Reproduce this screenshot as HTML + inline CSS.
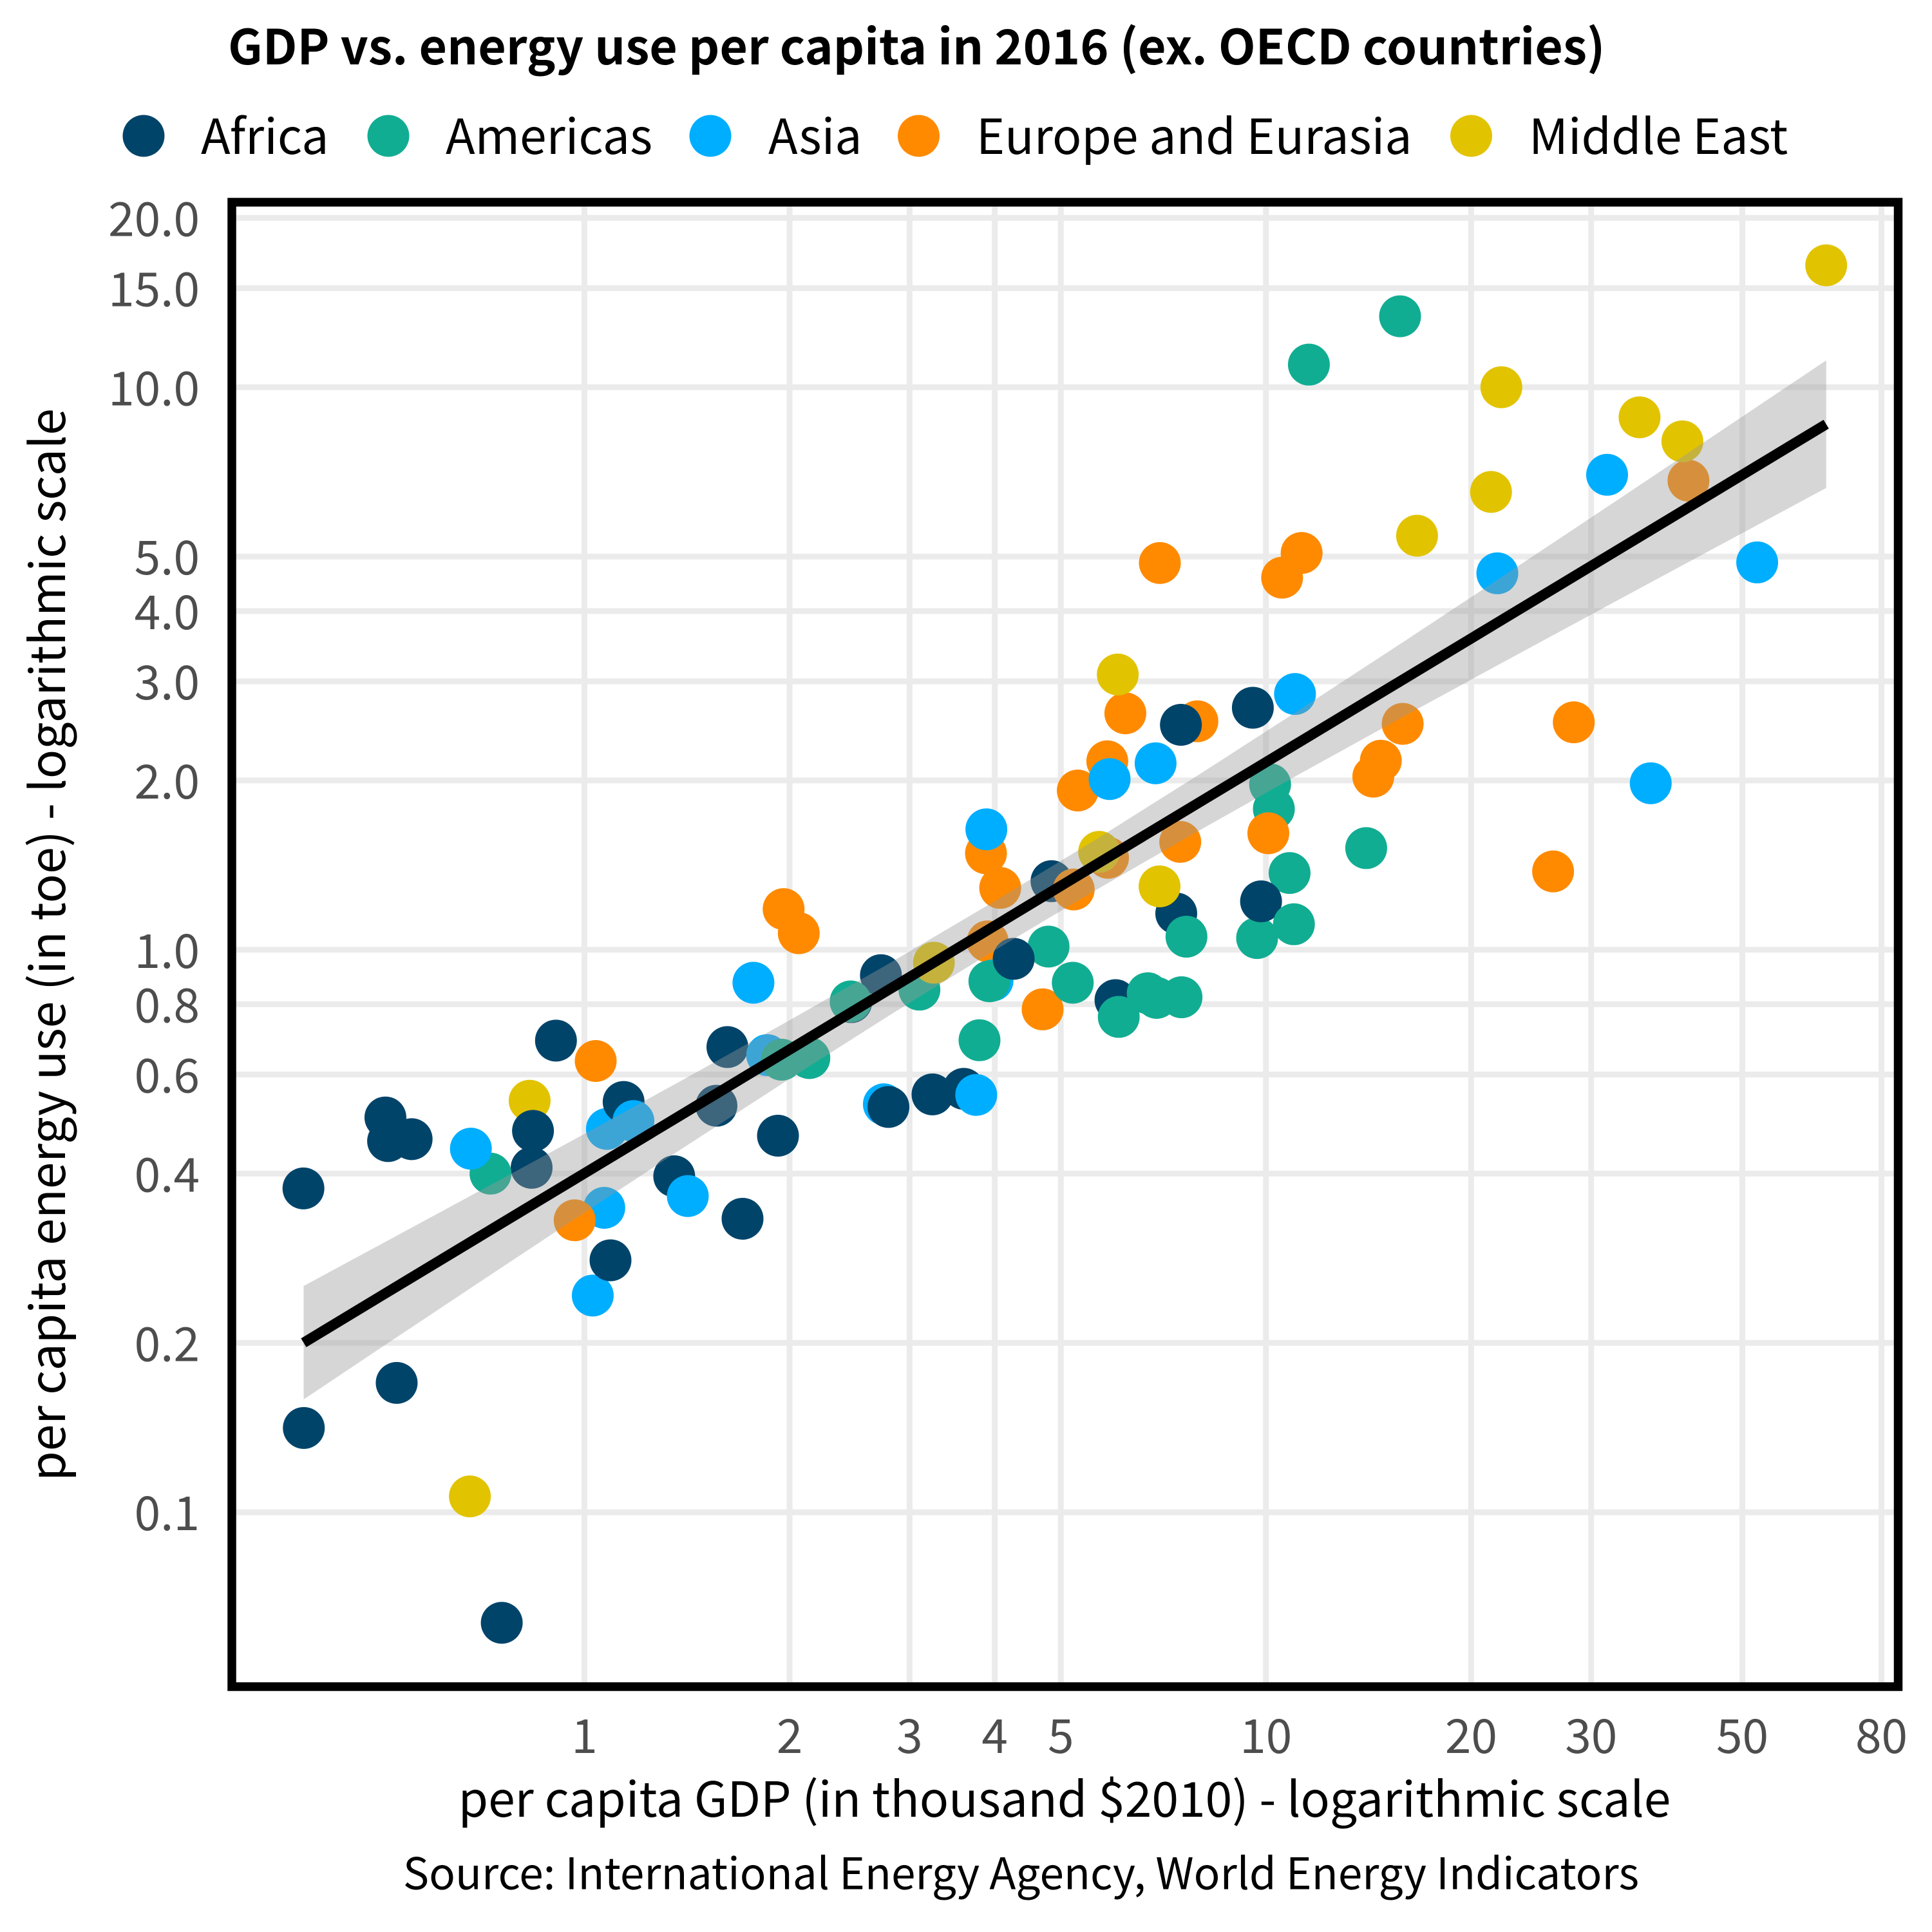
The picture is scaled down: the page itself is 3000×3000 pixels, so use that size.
<!DOCTYPE html>
<html lang="en">
<head>
<meta charset="utf-8">
<title>GDP vs. energy use per capita in 2016</title>
<style>
html,body{margin:0;padding:0;background:#fff;}
svg{display:block;}
text{font-family:"Noto Sans CJK SC","Liberation Sans",sans-serif;}
</style>
</head>
<body>
<svg id="chart" xmlns="http://www.w3.org/2000/svg" width="3000" height="3000" viewBox="0 0 3000 3000">
  <rect x="0" y="0" width="3000" height="3000" fill="#ffffff"/>
  <text x="354" y="100" font-size="75.1" font-weight="700" fill="#000">GDP vs. energy use per capita in 2016 (ex. OECD countries)</text>
  <g>
    <g>
      <circle cx="223" cy="211" r="32.5" fill="#01446a"/>
      <text x="312" y="239" font-size="75" fill="#000">Africa</text>
    </g>
    <g>
      <circle cx="603" cy="211" r="32.5" fill="#11ad92"/>
      <text x="692" y="239" font-size="75" fill="#000">Americas</text>
    </g>
    <g>
      <circle cx="1103" cy="211" r="32.5" fill="#00aeff"/>
      <text x="1193" y="239" font-size="75" fill="#000">Asia</text>
    </g>
    <g>
      <circle cx="1426.5" cy="211" r="32.5" fill="#ff8a00"/>
      <text x="1516" y="239" font-size="75" fill="#000">Europe and Eurasia</text>
    </g>
    <g>
      <circle cx="2284.5" cy="211" r="32.5" fill="#e2c300"/>
      <text x="2374" y="239" font-size="75" fill="#000">Middle East</text>
    </g>
  </g>
  <g id="grid"></g>
  <g id="points"></g>
  <path id="ribbon" fill="#999999" fill-opacity="0.4" stroke="none"/>
  <path id="fitline" fill="none" stroke="#000" stroke-width="16"/>
  <rect x="360" y="314" width="2587.5" height="2305" fill="none" stroke="#000" stroke-width="13.5"/>
  <g id="yticks"></g>
  <g id="xticks"></g>
  <text x="1653" y="2821" text-anchor="middle" font-size="75" fill="#000">per capita GDP (in thousand $2010) - logarithmic scale</text>
  <text transform="translate(101,1467) rotate(-90)" text-anchor="middle" font-size="75" fill="#000">per capita energy use (in toe) - logarithmic scale</text>
  <text x="1585.5" y="2933.5" text-anchor="middle" font-size="67.5" fill="#000">Source: International Energy Agency, World Energy Indicators</text>
</svg>
<script>
const xTickValues = [1, 2, 3, 4, 5, 10, 20, 30, 50, 80];
const xTickLabels = ['1', '2', '3', '4', '5', '10', '20', '30', '50', '80'];
const yTickValues = [0.1, 0.2, 0.4, 0.6, 0.8, 1, 2, 3, 4, 5, 10, 15, 20];
const yTickLabels = ['0.1', '0.2', '0.4', '0.6', '0.8', '1.0', '2.0', '3.0', '4.0', '5.0', '10.0', '15.0', '20.0'];

const regionCodes = ['AF', 'AM', 'AS', 'EU', 'ME'];
const regionColors = ['#01446a', '#11ad92', '#00aeff', '#ff8a00', '#e2c300'];

const pointRegion = [
'ME','AF','AF','AF','AF','AF','AF','AF','AF','AF',
'AS','AF','AS','AS','EU','AS','AF','AM','AS','ME',
'EU','AF','AF','AS','AF','AF','AF','AF','AS','EU',
'EU','AS','AM','AM','AF','AF','AM','AM','ME','AS',
'AF','AF','AF','AS','AM','AM','EU','AS','AM','AF',
'EU','AS','EU','EU','AM','AF','AM','AM','AM','AM',
'EU','ME','AF','EU','EU','ME','EU','AF','AF','AS',
'EU','EU','AS','AS','EU','AF','ME','AM','AM','AM',
'EU','AM','AM','AF','AM','AM','EU','EU','EU','EU',
'EU','EU','AM','AM','ME','ME','ME','EU','ME','AS',
'ME','ME','AS','AS','EU','AS','EU'
];
const pointGdp = [
0.831,0.8405,0.8366,0.3870,0.3875,0.5303,0.5105,0.5151,0.5578,0.9083,
1.0787,1.1416,1.180,1.0693,0.9675,1.0285,1.0921,0.7281,0.6814,0.6791,
1.0388,0.7563,1.3544,1.418,1.562,1.706,1.621,1.923,1.770,1.960,
2.063,1.854,2.138,1.947,2.723,2.463,2.458,3.101,3.256,2.750,
2.793,3.602,3.241,3.757,3.799,4.797,3.905,3.970,3.928,4.264,
3.883,3.888,4.074,4.702,5.206,6.014,6.706,6.911,7.518,6.081,
5.864,5.691,4.845,5.223,6.218,6.061,7.932,7.502,9.566,11.03,
5.850,5.295,5.896,6.887,7.485,7.385,6.980,7.644,10.27,10.14,
10.08,10.83,9.705,9.835,10.99,14.03,15.87,14.74,14.37,6.987,
11.28,10.56,11.56,15.73,66.37,22.15,35.33,41.68,40.83,31.66,
21.39,16.66,21.85,52.57,28.29,36.69,26.38
];
const pointEnergy = [
0.539,0.4764,0.4096,0.3764,0.1412,0.1698,0.5033,0.4569,0.4605,0.6894,
0.4802,0.5363,0.4959,0.3477,0.3304,0.2428,0.2805,0.3999,0.4429,0.1067,
0.6342,0.0636,0.3956,0.3648,0.5281,0.3325,0.6714,0.4671,0.8737,1.181,
1.070,0.6497,0.6418,0.6376,0.9010,0.8071,0.8093,0.8494,0.9482,0.5312,
0.5254,0.5659,0.5531,0.5519,0.6904,1.013,1.035,0.8817,0.8789,0.9636,
1.484,1.637,1.288,0.7835,0.8737,0.8137,0.8369,0.8211,0.8232,0.7596,
1.457,1.493,1.324,1.280,2.632,3.085,2.548,2.511,2.693,2.849,
2.163,1.919,2.011,2.145,1.555,1.160,1.296,1.055,1.779,1.968,
1.611,1.369,1.049,1.219,1.110,1.516,2.521,2.168,2.031,4.870,
5.074,4.586,10.97,13.37,16.47,10.00,8.842,6.822,8.013,6.988,
6.514,5.445,4.669,4.882,2.537,1.977,1.378
];

const fitGdp = [0.3873,0.5,0.7,1,1.4,2,2.8,4,5.6,8,11,16,22,32,46,66.37];
const fitEnergy = [0.2001,0.2413,0.3086,0.4004,0.5121,0.6646,0.8500,1.103,1.411,1.831,2.310,3.038,3.834,5.042,6.573,8.596];
const fitUpper = [0.2525,0.2984,0.3720,0.4705,0.5886,0.7493,0.9456,1.220,1.564,2.053,2.633,3.542,4.570,6.180,8.288,11.16];
const fitLower = [0.1587,0.1952,0.2560,0.3408,0.4454,0.5895,0.7641,0.9977,1.272,1.632,2.028,2.606,3.217,4.114,5.214,6.621];

const SVGNS = 'http://www.w3.org/2000/svg';
function xScale(v) { return 907.5 + 1058.3 * Math.log10(v); }
function yScale(v) { return 1474.75 - 873.45 * Math.log10(v); }
function colorOf(code) { return regionColors[regionCodes.indexOf(code)]; }

const gridGroup = document.getElementById('grid');
const pointGroup = document.getElementById('points');
const xTickGroup = document.getElementById('xticks');
const yTickGroup = document.getElementById('yticks');

yTickValues.forEach(function (v, i) {
  const line = document.createElementNS(SVGNS, 'line');
  
  
  line.setAttribute('x1', 360);
  line.setAttribute('x2', 2947);
  line.setAttribute('y1', yScale(v));
  line.setAttribute('y2', yScale(v));
  line.setAttribute('stroke', '#ebebeb');
  line.setAttribute('stroke-width', 9);
  gridGroup.appendChild(line);
  const label = document.createElementNS(SVGNS, 'text');
  
  
  label.setAttribute('x', 310);
  label.setAttribute('y', yScale(v) + 28);
  label.setAttribute('text-anchor', 'end');
  label.setAttribute('font-size', 73);
  label.setAttribute('fill', '#4d4d4d');
  label.textContent = yTickLabels[i];
  yTickGroup.appendChild(label);
});

xTickValues.forEach(function (v, i) {
  const line = document.createElementNS(SVGNS, 'line');
  
  
  line.setAttribute('x1', xScale(v));
  line.setAttribute('x2', xScale(v));
  line.setAttribute('y1', 314);
  line.setAttribute('y2', 2619);
  line.setAttribute('stroke', '#ebebeb');
  line.setAttribute('stroke-width', 9);
  gridGroup.appendChild(line);
  const label = document.createElementNS(SVGNS, 'text');
  
  
  label.setAttribute('x', xScale(v));
  label.setAttribute('y', 2722);
  label.setAttribute('text-anchor', 'middle');
  label.setAttribute('font-size', 73);
  label.setAttribute('fill', '#4d4d4d');
  label.textContent = xTickLabels[i];
  xTickGroup.appendChild(label);
});

pointGdp.forEach(function (g, i) {
  const dot = document.createElementNS(SVGNS, 'circle');
  
  
  dot.setAttribute('cx', xScale(g));
  dot.setAttribute('cy', yScale(pointEnergy[i]));
  dot.setAttribute('r', 32.5);
  dot.setAttribute('fill', colorOf(pointRegion[i]));
  pointGroup.appendChild(dot);
});

const upperPath = fitGdp.map(function (g, i) { return xScale(g) + ',' + yScale(fitUpper[i]); });
const lowerPath = fitGdp.map(function (g, i) { return xScale(g) + ',' + yScale(fitLower[i]); }).reverse();
document.getElementById('ribbon').setAttribute('d', 'M' + upperPath.concat(lowerPath).join('L') + 'Z');
document.getElementById('fitline').setAttribute('d', 'M' + fitGdp.map(function (g, i) { return xScale(g) + ',' + yScale(fitEnergy[i]); }).join('L'));
</script>
</body>
</html>
